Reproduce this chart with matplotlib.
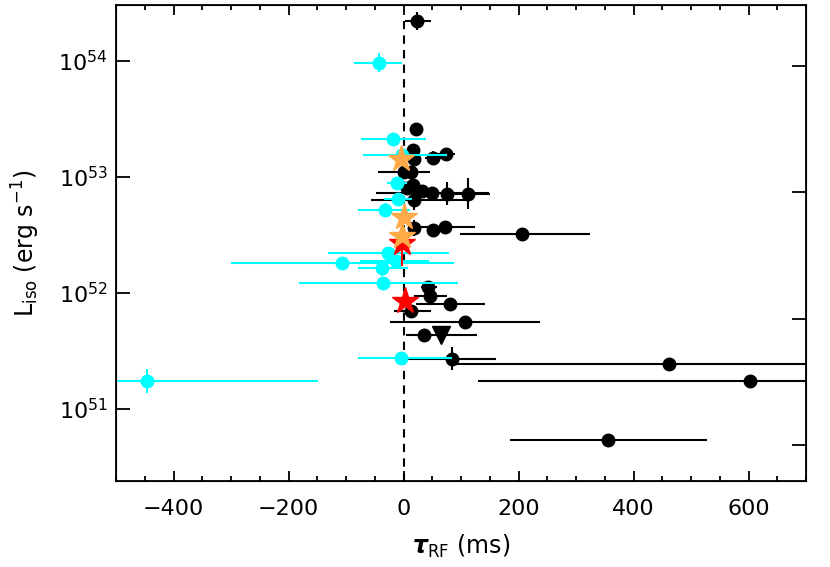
import numpy as np
import matplotlib
matplotlib.use("Agg")
import matplotlib.pyplot as plt
from matplotlib.ticker import MultipleLocator, NullFormatter

plt.rcParams['font.family'] = ['DejaVu Sans']
plt.rcParams['mathtext.default'] = 'regular'

# black: lag (ms), L_iso, x-error low/high (ms), y-error (dex)
blk_x = [23, 22, 17, 19, 52, 74, 1, 13, 6, 17, 32, 50, 75, 112, 18, 19, 52, 73, 206,
         43, 46, 80, 13, 107, 35, 84, 461, 602, 356]
blk_y = [2.21e54, 2.58e53, 1.71e53, 1.42e53, 1.47e53, 1.58e53, 1.11e53, 1.11e53, 8.0e52,
         8.5e52, 7.6e52, 7.3e52, 7.2e52, 7.2e52, 6.3e52, 3.61e52, 3.49e52, 3.73e52, 3.2e52,
         1.13e52, 9.5e51, 8.0e51, 7.0e51, 5.6e51, 4.3e51, 2.72e51, 2.44e51, 1.75e51, 5.4e50]
blk_xlo = [21, 8, 10, 8, 15, 16, 45, 10, 8, 8, 8, 98, 10, 38, 75, 8, 8, 52, 108,
           13, 28, 58, 30, 130, 8, 80, 376, 472, 171]
blk_xhi = [24, 8, 10, 8, 15, 16, 45, 10, 8, 8, 8, 98, 10, 38, 96, 8, 8, 52, 119,
           16, 29, 61, 34, 130, 8, 76, 376, 472, 172]
blk_dy = [0.078, 0.045, 0.05, 0.03, 0.058, 0.03, 0.03, 0.03, 0.03, 0.03, 0.03, 0.03,
          0.1, 0.13, 0.08, 0.07, 0.03, 0.03, 0.03, 0.03, 0.03, 0.03, 0.03, 0.03, 0.03,
          0.1, 0.03, 0.03, 0.03]

# cyan
cyn_x = [-447, -43, -18, -3, -11, -10, -33, -27, -107, -13, -38, -36, -5]
cyn_y = [1.74e51, 9.7e53, 2.14e53, 1.55e53, 8.9e52, 6.46e52, 5.2e52, 2.22e52, 1.80e52,
         1.89e52, 1.65e52, 1.23e52, 2.73e51]
cyn_xlo = [300, 44, 56, 68, 17, 24, 46, 104, 193, 62, 42, 146, 75]
cyn_xhi = [299, 41, 57, 78, 17, 25, 45, 106, 194, 57, 45, 130, 90]
cyn_dy = [0.1, 0.078, 0.03, 0.03, 0.03, 0.03, 0.06, 0.03, 0.05, 0.03, 0.07, 0.03, 0.03]

# stars
org_x = [-5, 0.5, -2]
org_y = [1.42e53, 4.5e52, 3.1e52]
red_x = [-2, 2]
red_y = [2.69e52, 8.5e51]
red_dy = [0.2, 0.0]

# limit
tri_x = [66]
tri_y = [4.35e51]
tri_xerr = [61]


def yerr(y, dex):
    y = np.array(y)
    d = np.array(dex)
    return [y - y * 10**(-d), y * 10**d - y]


fig = plt.figure(figsize=(8.3, 5.67), dpi=100)
ax = fig.add_axes([0.1398, 0.1517, 0.8313, 0.8395])

ax.vlines(0, 1e50, 2.21e54, colors='black', linestyles=(0, (4, 3)), lw=1.5, zorder=1)

ax.errorbar(blk_x, blk_y, xerr=[blk_xlo, blk_xhi], yerr=yerr(blk_y, blk_dy), fmt='o',
            color='black', ms=9, elinewidth=1.5, capsize=0, zorder=3)
ax.errorbar(cyn_x, cyn_y, xerr=[cyn_xlo, cyn_xhi], yerr=yerr(cyn_y, cyn_dy), fmt='o',
            color='#00FFFF', ms=9, elinewidth=1.5, capsize=0, zorder=4)
ax.errorbar(tri_x, tri_y, xerr=tri_xerr, fmt='v', color='black', ms=13,
            elinewidth=1.5, capsize=0, zorder=5)
ax.errorbar(red_x, red_y, yerr=yerr(red_y, red_dy), fmt='*', color='#FF0000', ms=20,
            elinewidth=1.5, capsize=0, zorder=6)
ax.plot(org_x, org_y, '*', color='#FFA947', ms=20, zorder=7)

ax.set_yscale('log')
ax.set_xlim(-500, 700)
ax.set_ylim(10**50.379, 10**54.483)
ax.xaxis.set_major_locator(MultipleLocator(200))
ax.xaxis.set_minor_locator(MultipleLocator(50))
ax.yaxis.set_minor_locator(plt.NullLocator())

ax.tick_params(axis='x', which='major', direction='in', length=7, width=1.3,
               top=True, labelsize=16, pad=13)
ax.tick_params(axis='x', which='minor', direction='in', length=3.5, width=1.3, top=True)
ax.tick_params(axis='y', which='major', direction='in', length=10, width=1.3,
               labelsize=16, pad=6)
for s in ax.spines.values():
    s.set_linewidth(1.3)

# right axis has its own scale, ticks only
ax2 = ax.twinx()
ax2.set_yscale('log')
ax2.set_ylim(10**-0.286, 10**3.484)
ax2.yaxis.set_minor_locator(plt.NullLocator())
ax2.yaxis.set_major_formatter(NullFormatter())
ax2.tick_params(axis='y', direction='in', length=10, width=1.3)

ax.set_xlabel(r'$\mathbfit{\tau}_{RF}$ (ms)', fontsize=17, labelpad=10)
ax.set_ylabel(r'L$_{iso}$ (erg s$^{-1}$)', fontsize=17, labelpad=12)

fig.savefig('out.png', dpi=100)
